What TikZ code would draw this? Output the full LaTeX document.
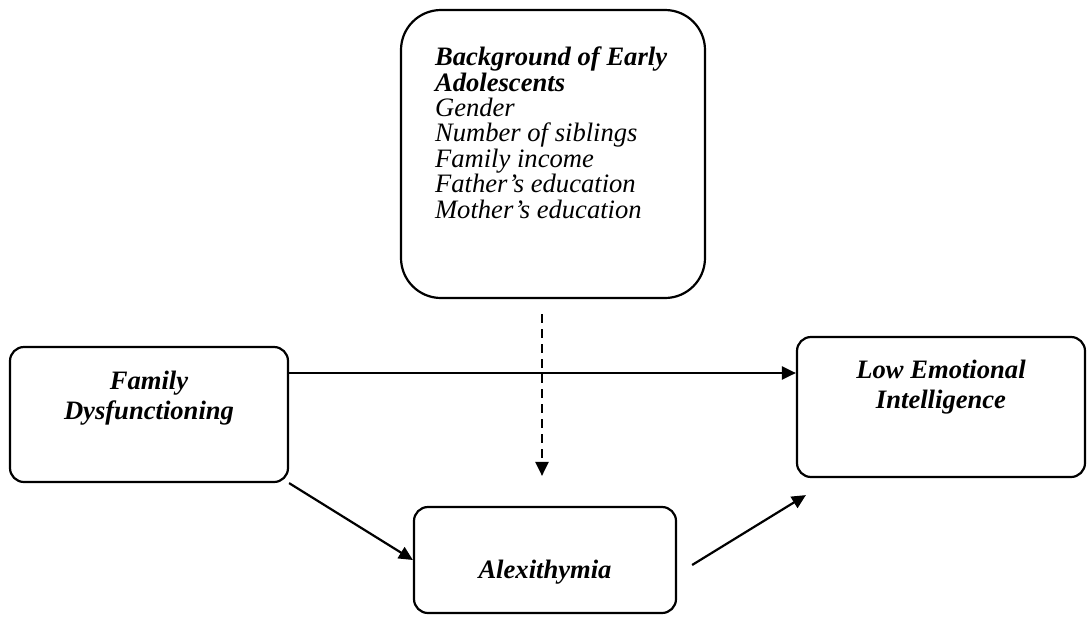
\documentclass[tikz,border=0pt]{standalone}
\usepackage{fontspec}
\setmainfont{Liberation Serif}
\usetikzlibrary{arrows.meta,positioning}
\tikzset{
  cbox/.style={draw, line width=1.1pt, rounded corners=7pt, inner sep=0pt},
  ttl/.style={font=\fontsize{13.3}{15}\selectfont\bfseries\itshape, align=center},
  itm/.style={font=\fontsize{13.3}{12.7}\selectfont\itshape, align=left},
  arr/.style={-{Triangle[length=7pt,width=6.5pt]}, line width=1.1pt},
}
\begin{document}
\begin{tikzpicture}[x=0.5pt, y=-0.5pt]
  \useasboundingbox (0,0) rectangle (1087,616);

  % Boxes
  \node[cbox, rounded corners=20pt, minimum width=152pt, minimum height=144pt] (bg) at (553,154) {};
  \node[cbox, minimum width=139pt, minimum height=67.5pt] (fam) at (149,414.5) {};
  \node[cbox, minimum width=144pt, minimum height=70pt] (low) at (941,407) {};
  \node[cbox, minimum width=131pt, minimum height=53pt] (alex) at (545,560) {};

  % Box texts
  \node[itm, anchor=north west] (bgtxt) at (428,40) {%
    \textbf{Background of Early}\\
    \textbf{Adolescents}\\
    Gender\\
    Number of siblings\\
    Family income\\
    Father’s education\\
    Mother’s education};
  \node[ttl] (famtxt) at (149,398) {Family\\Dysfunctioning};
  \node[ttl] (lowtxt) at (941,387) {Low Emotional\\Intelligence};
  \node[ttl] (alextxt) at (545,572) {Alexithymia};

  % Paths
  \draw[arr] ([yshift=20.75pt]fam.east) -- ([yshift=17pt]low.west);
  \draw[arr] (fam.south east) -- (alex.west);
  \draw[arr] ([shift={(15,5)}]alex.east) -- ([shift={(10,17)}]low.south west);

  % Moderator (dashed)
  \coordinate (dtop) at ([shift={(-11,15)}]bg.south);
  \coordinate (dend) at ([shift={(-3,-30)}]alex.north);
  \draw[arr, dash pattern=on 4.5pt off 3pt] (dtop) -- (dend);
\end{tikzpicture}
\end{document}
